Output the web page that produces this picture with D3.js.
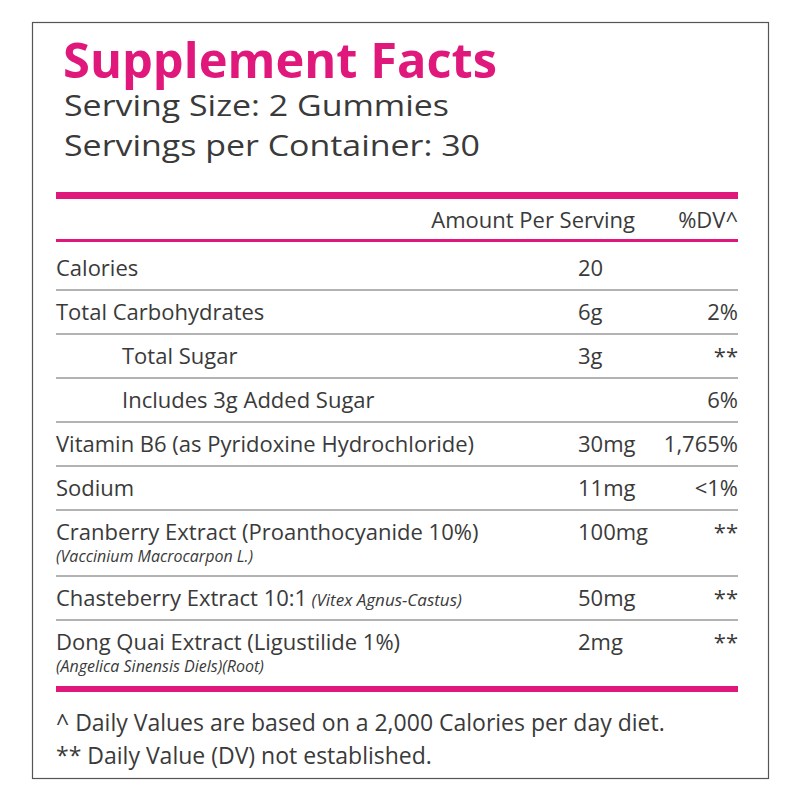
<!DOCTYPE html><html><head><meta charset="utf-8">
<script src="https://cdn.jsdelivr.net/npm/d3@7"></script>
<style>body{margin:0;background:#fff}</style></head><body>
<script>
const names=["Calories","Total Carbohydrates","Total Sugar","Includes 3g Added Sugar","Vitamin B6 (as Pyridoxine Hydrochloride)","Sodium","Cranberry Extract (Proanthocyanide 10%)","Chasteberry Extract 10:1","Dong Quai Extract (Ligustilide 1%)"];
const inlineItalic=["","","","","","","","(Vitex Agnus-Castus)",""];
const subs=["","","","","","","(Vaccinium Macrocarpon L.)","","(Angelica Sinensis Diels)(Root)"];
const amounts=["20","6g","3g","","30mg","11mg","100mg","50mg","2mg"];
const dvs=["","2%","**","6%","1,765%","<1%","**","**","**"];
const indent=[0,0,1,1,0,0,0,0,0];
const rowUnits=[1,1,1,1,1,1,1.5,1,1.5];
const footnotes=["^ Daily Values are based on a 2,000 Calories per day diet.","** Daily Value (DV) not established."];
const mag="#e0187c", txt="#3a3a3a", F="'Open Sans', sans-serif";
const svg=d3.select("body").append("svg").attr("width",800).attr("height",800);
svg.append("rect").attr("x",32.5).attr("y",22.5).attr("width",736).attr("height",756).attr("fill","none").attr("stroke","#555").attr("stroke-width",1.2);
svg.append("text").attr("x",63).attr("y",78).attr("font-family",F).attr("font-weight",700).attr("font-size",48).attr("fill",mag).attr("textLength",434).attr("lengthAdjust","spacingAndGlyphs").text("Supplement Facts");
svg.append("text").attr("x",64).attr("y",116).attr("font-family",F).attr("font-size",30).attr("fill",txt).attr("textLength",385).attr("lengthAdjust","spacingAndGlyphs").text("Serving Size: 2 Gummies");
svg.append("text").attr("x",64).attr("y",156).attr("font-family",F).attr("font-size",30).attr("fill",txt).attr("textLength",416).attr("lengthAdjust","spacingAndGlyphs").text("Servings per Container: 30");
const L=56,R=738;
svg.append("rect").attr("x",L).attr("y",192).attr("width",R-L).attr("height",7).attr("fill",mag);
svg.append("text").attr("x",635).attr("y",228).attr("text-anchor","end").attr("font-family",F).attr("font-size",22).attr("fill",txt).text("Amount Per Serving");
svg.append("text").attr("x",R).attr("y",228).attr("text-anchor","end").attr("font-family",F).attr("font-size",22).attr("fill",txt).text("%DV^");
svg.append("rect").attr("x",L).attr("y",239).attr("width",R-L).attr("height",3).attr("fill",mag);
const cum=[0];rowUnits.forEach(u=>cum.push(cum[cum.length-1]+u));
const y=d3.scaleLinear().domain([0,cum[cum.length-1]]).range([246,686]);
const g=svg.selectAll("g.row").data(names).join("g");
g.append("text").attr("x",(d,i)=>indent[i]?122:L).attr("y",(d,i)=>y(cum[i])+30).attr("font-family",F).attr("font-size",22).attr("fill",txt)
 .each(function(d,i){const t=d3.select(this);t.append("tspan").text(d);if(inlineItalic[i])t.append("tspan").attr("font-style","italic").attr("font-size",17).text(" "+inlineItalic[i]);});
g.append("text").attr("x",L).attr("y",(d,i)=>y(cum[i])+52).attr("font-family",F).attr("font-style","italic").attr("font-size",16).attr("fill",txt).text((d,i)=>subs[i]);
g.append("text").attr("x",578).attr("y",(d,i)=>y(cum[i])+30).attr("font-family",F).attr("font-size",22).attr("fill",txt).text((d,i)=>amounts[i]);
g.append("text").attr("x",R).attr("y",(d,i)=>y(cum[i])+30).attr("text-anchor","end").attr("font-family",F).attr("font-size",22).attr("fill",txt).text((d,i)=>dvs[i]);
g.filter((d,i)=>i<names.length-1).append("line").attr("x1",L).attr("x2",R).attr("y1",(d,i)=>y(cum[i+1])).attr("y2",(d,i)=>y(cum[i+1])).attr("stroke","#666").attr("stroke-width",1);
svg.append("rect").attr("x",L).attr("y",y(cum[cum.length-1])).attr("width",R-L).attr("height",6).attr("fill",mag);
svg.selectAll("text.fn").data(footnotes).join("text").attr("class","fn").attr("x",L).attr("y",(d,i)=>731+i*33).attr("font-family",F).attr("font-size",23).attr("fill",txt).text(d=>d);
</script></body></html>
